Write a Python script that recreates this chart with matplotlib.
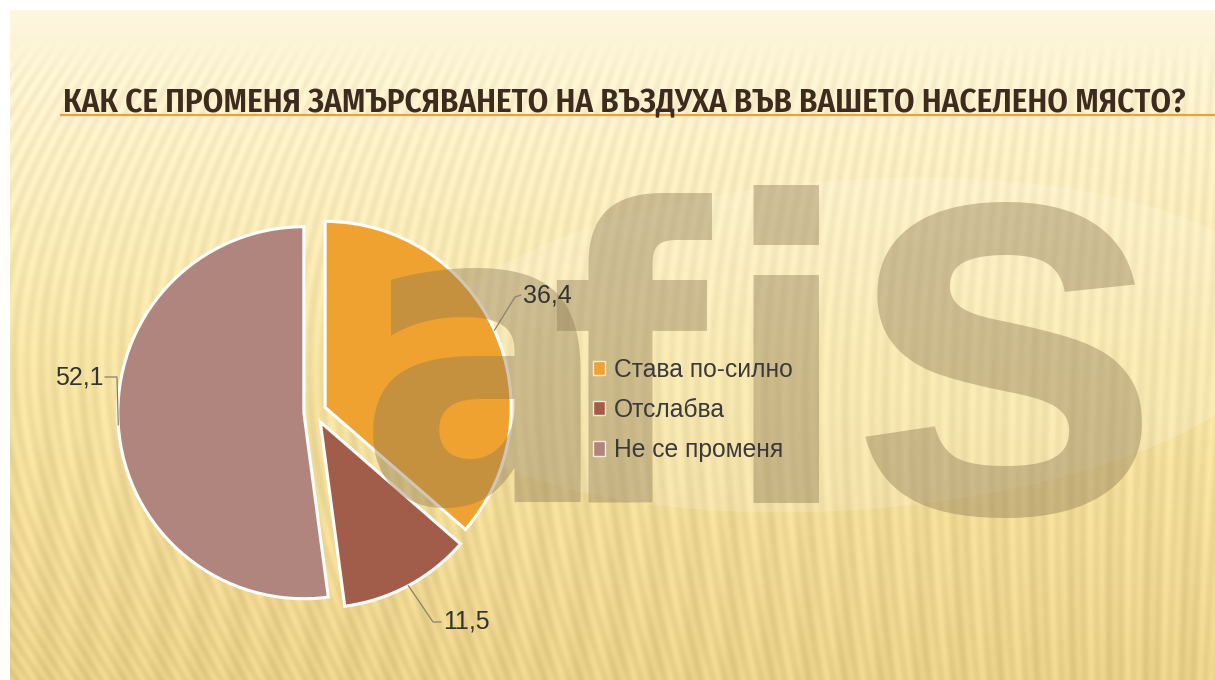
import numpy as np
import matplotlib.pyplot as plt
from matplotlib import font_manager
from matplotlib.font_manager import FontProperties
from matplotlib.ft2font import FT2Font
from matplotlib.patches import Ellipse

categories = ["Става по-силно", "Отслабва", "Не се променя"]
values = [36.4, 11.5, 52.1]
value_labels = ["36,4", "11,5", "52,1"]
colors = ["#efa22f", "#a25c4a", "#b0857d"]
title = "КАК СЕ ПРОМЕНЯ ЗАМЪРСЯВАНЕТО НА ВЪЗДУХА ВЪВ ВАШЕТО НАСЕЛЕНО МЯСТО?"

W, H = 1215, 680
fig = plt.figure(figsize=(W / 100, H / 100), dpi=100)
fig.patch.set_facecolor("white")

# background axes in pixel coordinates
bg = fig.add_axes([0, 0, 1, 1])
bg.set_xlim(0, W)
bg.set_ylim(H, 0)
bg.axis("off")

yy, xx = np.mgrid[10:H, 10:W].astype(float)
t = (yy - 10) / (H - 10)
stops = np.array([0.0, 0.08, 0.5, 1.0])
cols = np.array([[253, 247, 224], [252, 243, 210], [246, 228, 165], [233, 208, 136]]) / 255
img = np.stack([np.interp(t, stops, cols[:, k]) for k in range(3)], axis=-1)
slope = 0.75 * (1 - xx / W) * (1 - t) + 0.05
stripes = np.sin(2 * np.pi * (xx + slope * yy) / 12)
fade = np.clip((yy - 40) / 40, 0, 1)
img -= (0.024 * stripes * fade)[..., None]
bands = np.sin(2 * np.pi * xx / 38)
img -= (0.018 * bands * np.clip((t - 0.3) / 0.4, 0, 1))[..., None]
bg.imshow(np.clip(img, 0, 1), extent=[10, W, H, 10], aspect="auto", zorder=0)

bg.add_patch(Ellipse((850, 345), 880, 330, angle=-4, color="white", alpha=0.16, lw=0, zorder=1))


def has_cyrillic(path):
    try:
        cmap = FT2Font(path).get_charmap()
    except Exception:
        return False
    return all(ord(c) in cmap for c in "КЪЯЗДШ")


def pick_condensed(prefs, cyr=False, fallback_weight="normal"):
    # look for a condensed/narrow face, weight taken from the file name
    found = {}
    for f in font_manager.fontManager.ttflist:
        fn = f.fname.replace("\\", "/").split("/")[-1].rsplit(".", 1)[0]
        low = fn.lower()
        if not ("condensed" in low or "narrow" in low):
            continue
        if any(k in low for k in ("italic", "mono", "semicondensed", "extracondensed", "ultra", "oblique")):
            continue
        wt = fn.split("-")[-1] if "-" in fn else "Regular"
        if wt.lower().endswith("condensed") or wt.lower().endswith("narrow"):
            wt = "Regular"
        if wt in found or (cyr and not has_cyrillic(f.fname)):
            continue
        found[wt] = f.fname
    for p in prefs:
        if p in found:
            return FontProperties(fname=found[p])
    return FontProperties(family="Liberation Sans", weight=fallback_weight)


tprop = pick_condensed(["SemiBold", "Medium", "Bold", "Regular"], cyr=True)
wprop = pick_condensed(["Bold", "ExtraBold", "Black"], fallback_weight="bold")

ttl = bg.text(63, 112, title, fontproperties=tprop, color="#3d2b1e", va="baseline", ha="left", zorder=3)
ttl.set_fontsize(27)
r = fig.canvas.get_renderer()
w = ttl.get_window_extent(r).width
ttl.set_fontsize(27 * 1127 / w)
bg.plot([60, W], [115, 115], color="#e8a040", lw=1.6, zorder=2, solid_capstyle="butt")

# pie
cx, cy, rad = 315, 412, 186
side = 2.4 * rad
ax = fig.add_axes([(cx - side / 2) / W, (H - cy - side / 2) / H, side / W, side / H])
wedges, _ = ax.pie(values, colors=colors, startangle=90, counterclock=False,
                   explode=[0.06] * 3, wedgeprops=dict(edgecolor="white", linewidth=2.2))
ax.set_xlim(-1.2, 1.2)
ax.set_ylim(-1.2, 1.2)
ax.set_aspect("equal")
ax.axis("off")


def p2d(x, y):
    return (x - cx) / rad, (cy - y) / rad


# label elbows and text anchors (pixels)
elbows = [(515, 297), (433, 622), (117, 377)]
text_pos = [(519, 295), (439, 622), (107, 377)]
aligns = ["left", "left", "right"]
for wdg, lab, el, tp, ha in zip(wedges, value_labels, elbows, text_pos, aligns):
    mid = np.deg2rad((wdg.theta1 + wdg.theta2) / 2)
    x0 = wdg.center[0] + wdg.r * np.cos(mid)
    y0 = wdg.center[1] + wdg.r * np.sin(mid)
    ex, ey = p2d(*el)
    tx, ty = p2d(*tp)
    ax.plot([x0, ex, tx + (0.01 if ha == "left" else -0.01)], [y0, ey, ty], color="#8a8070",
            lw=0.9, clip_on=False, zorder=6)
    ax.text(tx + (0.02 if ha == "left" else -0.02), ty, lab, ha=ha, va="center", fontsize=18,
            family="Liberation Sans", color="#333333", zorder=7)

# watermark logo, letter by letter
wm_style = dict(transform=bg.transData, color=(0.56, 0.48, 0.33), alpha=0.42,
                va="baseline", ha="center", zorder=5)
ax.text(483, 502, "a", fontproperties=wprop, fontsize=300, **wm_style)
ax.text(628, 502, "f", fontproperties=wprop, fontsize=292, **wm_style)
ax.text(786, 502, "i", fontproperties=wprop, fontsize=300, **wm_style)
ax.text(1005, 512, "s", family="Liberation Sans", weight="bold", fontsize=415, **wm_style)

leg = ax.legend(wedges, categories, loc="center left", bbox_to_anchor=(593 / W, 1 - 410 / H),
                bbox_transform=fig.transFigure, frameon=False,
                handlelength=0.5, handleheight=0.5, handletextpad=0.35, labelspacing=0.66,
                borderaxespad=0, borderpad=0, prop=dict(family="Liberation Sans", size=17.7),
                labelcolor="#3a3a3a")
for h in leg.legend_handles:
    h.set_edgecolor("#f4ecd8")
    h.set_linewidth(1)
leg.set_zorder(8)

fig.savefig("out.png", dpi=100)
